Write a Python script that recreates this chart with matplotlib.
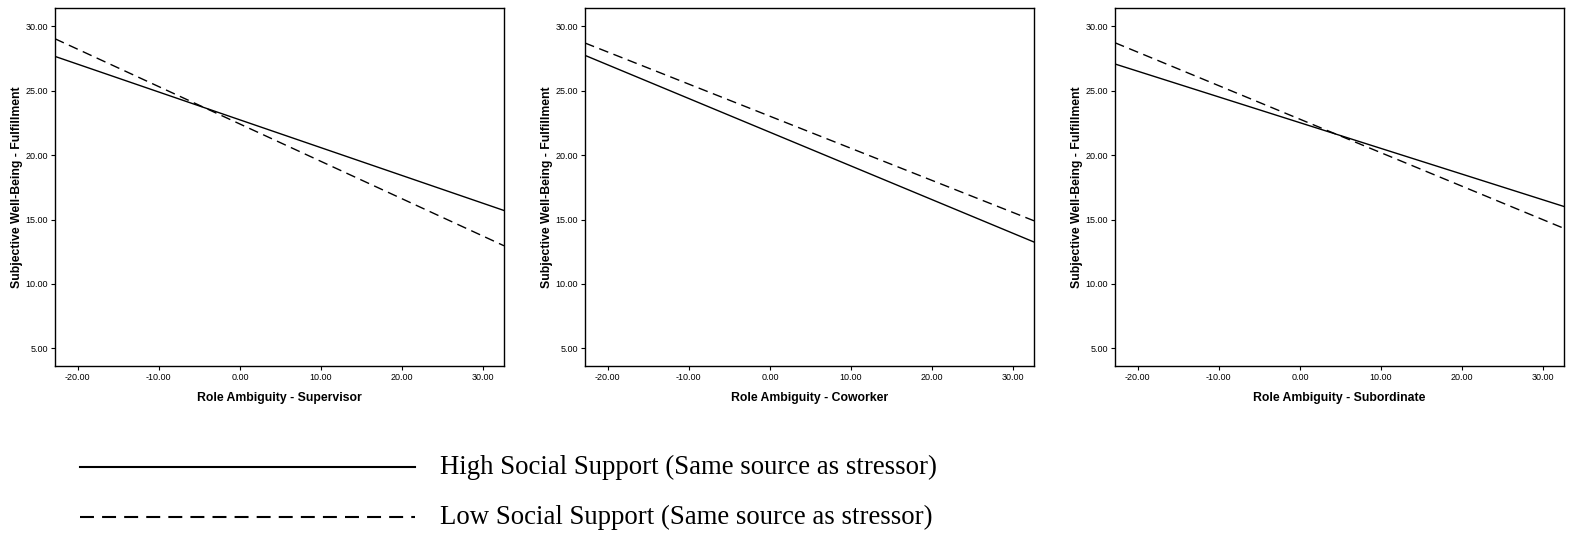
import matplotlib
matplotlib.use("Agg")
import matplotlib.pyplot as plt
from matplotlib.lines import Line2D

# ---- data ----
x_ends = [-22.8, 32.55]
panels = ["Supervisor", "Coworker", "Subordinate"]
high_support = [[27.67, 15.70], [27.75, 13.25], [27.08, 16.01]]
low_support = [[29.04, 12.96], [28.71, 14.90], [28.73, 14.31]]
y_ticks = [5, 10, 15, 20, 25, 30]
x_ticks = [-20, -10, 0, 10, 20, 30]
legend_labels = ["High Social Support (Same source as stressor)",
                 "Low Social Support (Same source as stressor)"]

W, H = 1570, 535
fig = plt.figure(figsize=(W / 100, H / 100), dpi=100)
plt.rcParams['font.family'] = ['Liberation Sans', 'DejaVu Sans']

lefts = [55, 585, 1115]
for i, name in enumerate(panels):
    ax = fig.add_axes([lefts[i] / W, (H - 366) / H, 449 / W, 358 / H])
    ax.plot(x_ends, high_support[i], color="black", lw=1.0)
    ax.plot(x_ends, low_support[i], color="black", lw=1.0, dashes=(7, 4))
    ax.set_xlim(x_ends)
    ax.set_ylim(3.62, 31.43)
    ax.set_xticks(x_ticks)
    ax.set_yticks(y_ticks)
    ax.set_xticklabels([f"{v:.2f}" for v in x_ticks])
    ax.set_yticklabels([f"{v:.2f}" for v in y_ticks])
    ax.tick_params(labelsize=6.5, length=3, width=0.8, pad=2, colors="black")
    for s in ax.spines.values():
        s.set_linewidth(1.0)
    ax.set_xlabel("Role Ambiguity - " + name, fontsize=8.8, fontweight="bold", labelpad=7)
    ax.set_ylabel("Subjective Well-Being - Fulfillment", fontsize=8.8, fontweight="bold", labelpad=2)

# ---- legend below the panels ----
fig.add_artist(Line2D([80 / W, 415 / W], [1 - 467 / H] * 2, color="black", lw=1.5,
                      transform=fig.transFigure))
fig.add_artist(Line2D([80 / W, 415 / W], [1 - 517 / H] * 2, color="black", lw=1.5,
                      dashes=(6.7, 3.9), transform=fig.transFigure))
for j, lab in enumerate(legend_labels):
    fig.text(440 / W, 1 - (467 + 50 * j) / H, lab, fontsize=19.3, va="center",
             family=["Liberation Serif", "DejaVu Serif"])

fig.savefig("out.png", dpi=100)
